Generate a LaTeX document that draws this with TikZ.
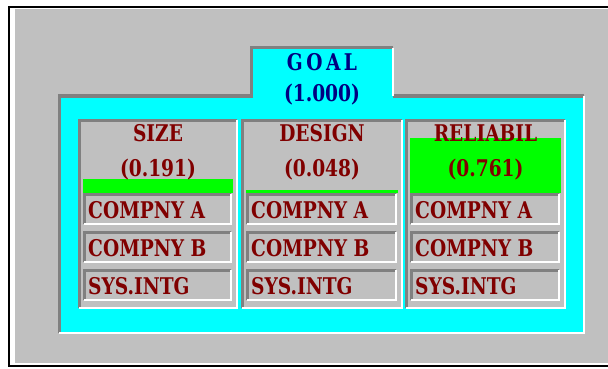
\documentclass[tikz,border=0pt]{standalone}
\usepackage{fontspec}
\newfontfamily\panelfont{DejaVu Serif Condensed}
\usepackage{xcolor}
\usepackage{graphicx}
\usetikzlibrary{positioning}
\definecolor{wingray}{RGB}{192,192,192}
\definecolor{windark}{RGB}{128,128,128}
\definecolor{wincyan}{RGB}{0,255,255}
\definecolor{wingreen}{RGB}{0,255,0}
\definecolor{txtred}{RGB}{128,0,0}
\definecolor{txtnavy}{RGB}{0,0,128}
\newcommand\panelnarrow[1]{\scalebox{0.9}[1]{#1}}

\begin{document}
\begin{tikzpicture}[
  x=1pt, y=-1pt,
  shade line/.style={draw=windark, line width=3pt},
  light line/.style={draw=white, line width=2.5pt},
  frame line/.style={draw=black, line width=2.5pt},
  label/.style={inner sep=0pt, font=\panelfont\bfseries\fontsize{23}{23}\selectfont, text=txtred},
  goal/.style={label, text=txtnavy},
  alt/.style={label, anchor=west}
]
  \useasboundingbox (0,0) rectangle (608,369);
  % window background
  \fill[white] (0,0) rectangle (608,369);
  \fill[wingray] (15,9) rectangle (608,363);
  \draw[frame line] (608,7) -- (9,7) -- (9,366) -- (608,366);

  % cyan goal panel
  \fill[wincyan] (59,96) -- (251,96) -- (251,48) -- (393,48) -- (393,96)
    -- (584,96) -- (584,333) -- (59,333) -- cycle;
  \draw[shade line] (59,333) -- (59,96) -- (251,96) -- (251,48) -- (393,48);
  \draw[shade line] (393,96) -- (584,96);
  \draw[light line] (393,48) -- (393,96);
  \draw[light line] (584,96) -- (584,333) -- (59,333);
  \node[goal] (goal-title) at (322,62) {\panelnarrow{G\,O\,A\,L}};
  \node[goal] (goal-val) at (322,95) {\panelnarrow{(1.000)}};

  % criteria columns
  \foreach \name/\val/\xa/\xb/\lab in {size/0.191/79/237/SIZE,
      design/0.048/242/402/DESIGN, reliabil/0.761/406/565/RELIABIL} {
    \fill[wingray] (\xa,120) rectangle (\xb,308);
    \fill[wingreen] (\xa+4,193) rectangle (\xb-4,{193-72*\val});
    \draw[shade line] (\xa,308) -- (\xa,120) -- (\xb,120);
    \draw[light line] (\xb,120) -- (\xb,308) -- (\xa,308);
    \node[label] (\name-title) at ({(\xa+\xb)/2},133) {\panelnarrow{\lab}};
    \node[label] (\name-val) at ({(\xa+\xb)/2},170) {\panelnarrow{(\val)}};
    % alternatives
    \foreach \alt/\ya [count=\j] in {COMPNY A/194, COMPNY B/232, SYS.INTG/270} {
      \draw[shade line] (\xa+5,\ya+30) -- (\xa+5,\ya) -- (\xb-6,\ya);
      \draw[light line] (\xb-6,\ya) -- (\xb-6,\ya+30) -- (\xa+5,\ya+30);
      \node[alt] (\name-alt\j) at (\xa+9,\ya+16) {\panelnarrow{\alt}};
    }
  }
\end{tikzpicture}
\end{document}
